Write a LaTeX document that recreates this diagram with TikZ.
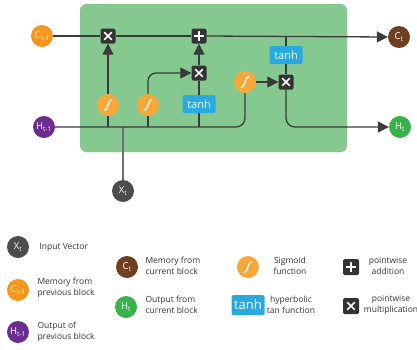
\documentclass[tikz,border=0pt]{standalone}
\usepackage{fontspec}
\setmainfont{Open Sans}
\usetikzlibrary{arrows.meta,positioning}

\definecolor{cellgreen}{RGB}{134,201,144}
\definecolor{wiregray}{RGB}{58,58,58}
\definecolor{xgray}{RGB}{110,110,110}
\definecolor{opgray}{RGB}{51,51,51}
\definecolor{sigorange}{RGB}{247,168,56}
\definecolor{cprevorange}{RGB}{245,150,30}
\definecolor{hprevpurple}{RGB}{108,45,145}
\definecolor{cnextbrown}{RGB}{110,64,33}
\definecolor{hnextgreen}{RGB}{58,178,74}
\definecolor{xtgray}{RGB}{77,77,77}
\definecolor{tanhblue}{RGB}{40,170,225}
\definecolor{legendtext}{RGB}{51,51,51}

\begin{document}
\begin{tikzpicture}[x=1pt,y=-1pt,>={Triangle[length=11pt,width=11pt]},
    wire/.style={draw=wiregray,line width=1.3pt},
    state/.style={circle,minimum size=22pt,inner sep=0pt,text=white,font=\fontsize{9.5}{9.5}\selectfont},
    opbox/.style={fill=opgray,minimum size=15pt,inner sep=0pt,rounded corners=1.5pt},
    timesop/.style={opbox,path picture={
        \draw[white,line width=1.5pt] ([shift={(-3.8pt,-3.8pt)}]path picture bounding box.center) -- ([shift={(3.8pt,3.8pt)}]path picture bounding box.center);
        \draw[white,line width=1.5pt] ([shift={(-3.8pt,3.8pt)}]path picture bounding box.center) -- ([shift={(3.8pt,-3.8pt)}]path picture bounding box.center);}},
    plusop/.style={opbox,path picture={
        \draw[white,line width=1.7pt] ([shift={(-5pt,0pt)}]path picture bounding box.center) -- ([shift={(5pt,0pt)}]path picture bounding box.center);
        \draw[white,line width=1.7pt] ([shift={(0pt,-5pt)}]path picture bounding box.center) -- ([shift={(0pt,5pt)}]path picture bounding box.center);}},
    gate/.style={circle,fill=sigorange,minimum size=22pt,inner sep=0pt,path picture={
        \draw[white,line width=1.3pt] ([shift={(-4pt,-5.5pt)}]path picture bounding box.center) .. controls ([shift={(0.5pt,-5.5pt)}]path picture bounding box.center) and ([shift={(-0.5pt,5.5pt)}]path picture bounding box.center) .. ([shift={(4pt,5.5pt)}]path picture bounding box.center);}},
    tanhbox/.style={fill=tanhblue,text=white,rounded corners=1.5pt,minimum width=33pt,minimum height=18pt,inner sep=0pt,font=\fontsize{11}{11}\selectfont},
    legtext/.style={font=\fontsize{8.5}{10.5}\selectfont,text=legendtext,align=left,anchor=west},
    legmid/.style={font=\fontsize{8.5}{10.5}\selectfont,text=legendtext,align=center}]

  \useasboundingbox (0,0) rectangle (417,349);

  % cell
  \node[fill=cellgreen,draw=cellgreen!85!black,dash pattern=on 1pt off 1pt,line width=0.4pt,
        rounded corners=7pt,minimum width=267pt,minimum height=148pt] (cell) at (213.5,78) {};

  % states
  \node[state,fill=cprevorange] (cprev) at (42,36) {C\textsubscript{t-1}};
  \node[state,fill=hprevpurple] (hprev) at (44,127) {H\textsubscript{t-1}};
  \node[state,fill=cnextbrown] (cnext) at (399,37) {C\textsubscript{t}};
  \node[state,fill=hnextgreen] (hnext) at (400,127) {H\textsubscript{t}};
  \node[state,fill=xtgray] (xt) at (123,191) {X\textsubscript{t}};

  % gates and operations
  \node[timesop] (mult1) at (108,36) {};
  \node[plusop] (plus) at (199,36) {};
  \node[gate] (sig1) at (108,105) {};
  \node[gate] (sig2) at (148,105) {};
  \node[tanhbox] (tanha) at (199,104) {tanh};
  \node[timesop] (mult2) at (199,73) {};
  \node[gate] (sig3) at (245,82) {};
  \node[timesop] (mult3) at (286,82) {};
  \node[tanhbox] (tanhb) at (286,55) {tanh};

  % memory line
  \draw[wire] (cprev.east) -- (mult1.west);
  \draw[wire] (mult1.east) -- (plus.west);
  \draw[wire,->] (plus.east) -- (cnext.west);

  % hidden line
  \draw[wire,draw=xgray] (xt.north) -- (xt |- hprev);
  \draw[wire,rounded corners=9pt] (hprev.east) -| (sig3.south);
  \draw[wire] (sig1 |- hprev) -- (sig1.south);
  \draw[wire] (sig2 |- hprev) -- (sig2.south);
  \draw[wire] (tanha |- hprev) -- (tanha.south);

  % gate outputs
  \draw[wire,->] (sig1.north) -- (mult1.south);
  \draw[wire,->,rounded corners=8pt] (sig2.north) |- (mult2.west);
  \draw[wire] (tanha.north) -- (mult2.south);
  \draw[wire,->] (mult2.north) -- (plus.south);
  \draw[wire,->] (sig3.east) -- (mult3.west);
  \draw[wire] (tanhb |- cnext) -- (tanhb.north);
  \draw[wire] (tanhb.south) -- (mult3.north);
  \draw[wire,->,rounded corners=9pt] (mult3.south) |- (hnext.west);

  % legend
  \node[state,fill=xtgray] (lgx) at (18,247) {X\textsubscript{t}};
  \node[legtext] (lgxt) at (36,247) {Input Vector};
  \node[state,fill=cprevorange] (lgcp) at (18,290) {C\textsubscript{t-1}};
  \node[legtext] (lgcpt) at (34,288) {Memory from\\previous block};
  \node[state,fill=hprevpurple] (lghp) at (18,332) {H\textsubscript{t-1}};
  \node[legtext] (lghpt) at (34,332) {Output of\\previous block};
  \node[state,fill=cnextbrown] (lgcn) at (127,267) {C\textsubscript{t}};
  \node[legtext] (lgcnt) at (142,266) {Memory from\\current block};
  \node[state,fill=hnextgreen] (lghn) at (126,307) {H\textsubscript{t}};
  \node[legtext] (lghnt) at (142,305) {Output from\\current block};
  \node[gate] (lgsig) at (248,267) {};
  \node[legmid] (lgsigt) at (290,266) {Sigmoid\\function};
  \node[tanhbox,minimum height=20pt,font=\fontsize{13}{13}\selectfont] (lgtanh) at (248,305) {tanh};
  \node[legmid] (lgtanht) at (291,305) {hyperbolic\\tan function};
  \node[plusop,minimum size=16pt] (lgplus) at (351,267) {};
  \node[legmid] (lgplust) at (388,266) {pointwise\\addition};
  \node[timesop,minimum size=16pt] (lgmult) at (351,306) {};
  \node[legmid] (lgmultt) at (391,305) {pointwise\\multiplication};
\end{tikzpicture}
\end{document}
